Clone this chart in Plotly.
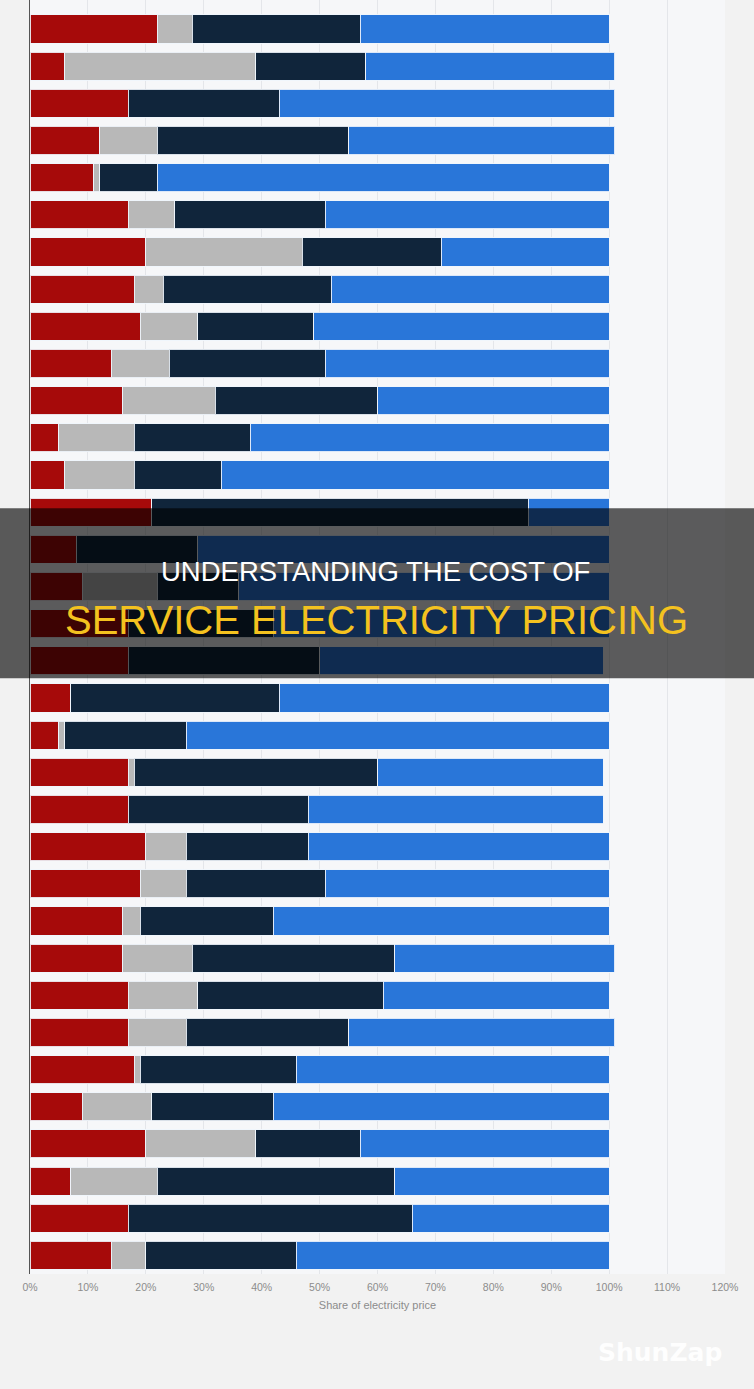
import plotly.graph_objects as go

categories = [f"Item {i}" for i in range(1, 35)]

energy = [22, 6, 17, 12, 11, 17, 20, 18, 19, 14, 16, 5, 6, 21, 8, 9, 17,
          17, 7, 5, 17, 17, 20, 19, 16, 16, 17, 17, 18, 9, 20, 7, 17, 14]
other = [6, 33, 0, 10, 1, 8, 27, 5, 10, 10, 16, 13, 12, 0, 0, 13, 0,
         0, 0, 1, 1, 0, 7, 8, 3, 12, 12, 10, 1, 12, 19, 15, 0, 6]
network = [29, 19, 26, 33, 10, 26, 24, 29, 20, 27, 28, 20, 15, 65, 21, 14, 25,
           33, 36, 21, 42, 31, 21, 24, 23, 35, 32, 28, 27, 21, 18, 41, 49, 26]
taxes = [43, 43, 58, 46, 78, 49, 29, 48, 51, 49, 40, 62, 67, 14, 71, 64, 58,
         49, 57, 73, 39, 51, 52, 49, 58, 38, 39, 46, 54, 58, 43, 37, 34, 54]

series_names = ["Energy and supply", "Other charges", "Network costs", "Taxes and levies"]
series_values = [energy, other, network, taxes]
series_colors = ["#a60a0a", "#b8b8b8", "#10253b", "#2976d9"]

tick_values = list(range(0, 130, 10))
tick_labels = [f"{v}%" for v in tick_values]

fig = go.Figure()
for name, vals, col in zip(series_names, series_values, series_colors):
    fig.add_trace(go.Bar(
        y=categories, x=vals, name=name, orientation="h",
        marker=dict(color=col, line=dict(color="rgba(240,245,252,0.9)", width=1)),
        hoverinfo="x+name",
    ))

fig.update_layout(
    width=754, height=1389,
    barmode="stack", bargap=0.243,
    showlegend=False,
    paper_bgcolor="#f2f2f2",
    plot_bgcolor="#f6f7f9",
    margin=dict(l=30, r=29, t=0, b=115),
    font=dict(family="Liberation Sans, Arial, sans-serif"),
    xaxis=dict(
        range=[0, 120], tickvals=tick_values, ticktext=tick_labels,
        showgrid=True, gridcolor="#e4e6ea", gridwidth=1,
        zeroline=False, showline=False,
        tickfont=dict(size=10.5, color="#8c8c8c"),
        ticklabelstandoff=5,
        title=dict(text="Share of electricity price", font=dict(size=11, color="#8c8c8c"), standoff=9),
        ticks="", ticklen=0,
    ),
    yaxis=dict(
        categoryorder="array", categoryarray=categories,
        range=[33.5, -0.78],
        showticklabels=False, showgrid=False, zeroline=False,
        showline=True, linecolor="#555555", linewidth=1,
    ),
)

# Title banner overlay
fig.add_shape(type="rect", xref="paper", yref="paper",
              x0=-30/695, x1=(754-30)/695,
              y0=(1273.5-678)/1273.5, y1=(1273.5-508)/1273.5,
              fillcolor="rgba(0,0,0,0.63)", line=dict(width=0), layer="above")

fig.add_annotation(text="UNDERSTANDING THE COST OF", xref="paper", yref="paper",
                   x=(375.5-30)/695, y=(1273.5-571)/1273.5, showarrow=False,
                   xanchor="center", yanchor="middle",
                   font=dict(family="Liberation Sans, Arial, sans-serif", size=27.5, color="#ffffff"))
fig.add_annotation(text="SERVICE ELECTRICITY PRICING", xref="paper", yref="paper",
                   x=(376-30)/695, y=(1273.5-620)/1273.5, showarrow=False,
                   xanchor="center", yanchor="middle",
                   font=dict(family="Liberation Sans, Arial, sans-serif", size=40, color="#f4c21f"))

# Watermark
fig.add_annotation(text="<b>ShunZap</b>", xref="paper", yref="paper",
                   x=(660-30)/695, y=(1273.5-1352)/1273.5, showarrow=False,
                   xanchor="center", yanchor="middle",
                   font=dict(family="DejaVu Sans, sans-serif", size=25, color="rgba(255,255,255,0.95)"))

fig.write_html("out.html")
